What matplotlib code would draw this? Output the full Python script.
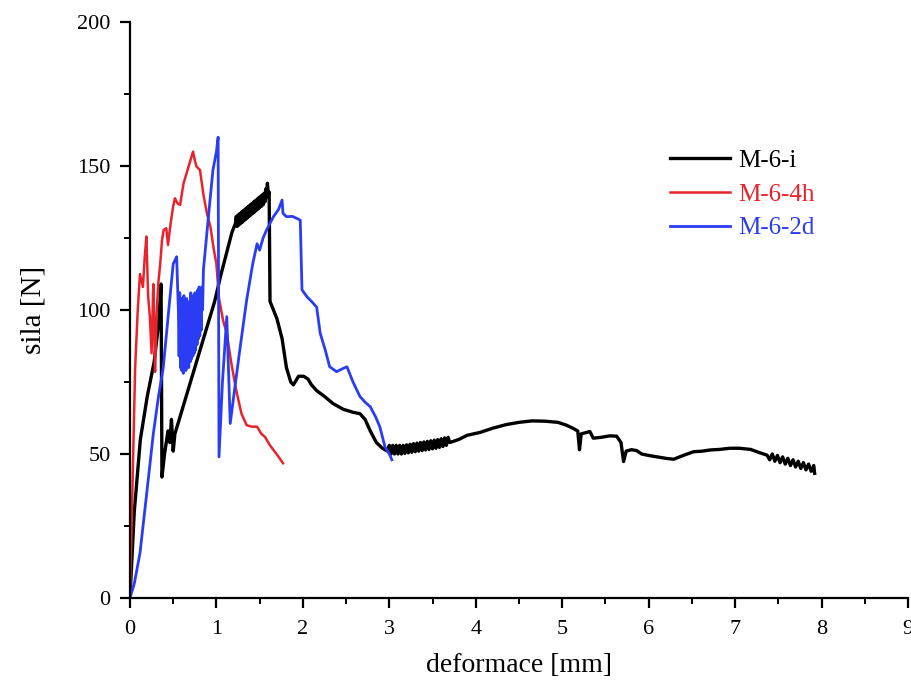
import matplotlib
matplotlib.use("Agg")
import matplotlib.pyplot as plt
from matplotlib.ticker import MultipleLocator

plt.rcParams['font.family'] = ['Liberation Serif', 'DejaVu Serif']

# M-6-i
x_i = [0, 0.05, 0.12, 0.2, 0.28, 0.33, 0.36, 0.37, 0.40, 0.44, 0.46, 0.48, 0.50, 0.52,
       0.55, 0.65, 0.75, 0.85, 0.98, 1.05, 1.12, 1.18, 1.22,
       1.23, 1.24, 1.25, 1.26, 1.27, 1.28, 1.29, 1.30, 1.31, 1.32, 1.33, 1.34, 1.35,
       1.36, 1.37, 1.38, 1.39, 1.40, 1.41, 1.42, 1.43, 1.44, 1.45, 1.46, 1.47, 1.48,
       1.49, 1.50, 1.51, 1.52, 1.53, 1.54, 1.55, 1.56, 1.57, 1.58, 1.59, 1.60, 1.61,
       1.62, 1.66, 1.70, 1.76, 1.81, 1.86,
       1.89, 1.95, 2.01, 2.06, 2.10, 2.16, 2.25, 2.35, 2.47, 2.58, 2.66, 2.72, 2.78,
       2.85, 2.92, 2.98,
       3.00, 3.02, 3.04, 3.06, 3.08, 3.10, 3.12, 3.14, 3.16, 3.18, 3.20, 3.22, 3.24,
       3.26, 3.28, 3.30, 3.32, 3.34, 3.36, 3.38, 3.40, 3.42, 3.44, 3.46, 3.48, 3.50,
       3.52, 3.54, 3.56, 3.58, 3.60, 3.62, 3.64, 3.66, 3.68, 3.70,
       3.80, 3.90, 4.05, 4.20, 4.35, 4.50, 4.65, 4.80, 4.95,
       5.05, 5.12, 5.18, 5.20, 5.22, 5.28, 5.32, 5.36, 5.45, 5.55, 5.63, 5.68, 5.71,
       5.74, 5.80, 5.86, 5.92, 6.00, 6.10, 6.20, 6.29, 6.40, 6.52, 6.62, 6.71, 6.82,
       6.94, 7.05, 7.18, 7.28, 7.37, 7.40, 7.43, 7.46, 7.49, 7.52, 7.55, 7.58, 7.61,
       7.64, 7.67, 7.70, 7.73, 7.76, 7.79, 7.82, 7.85, 7.88, 7.91, 7.92]
y_i = [0, 30, 55, 70, 82, 95, 109, 42, 50, 58, 54, 62, 51, 57,
       60, 70, 80, 90, 103, 112, 120, 127, 130,
       132.5, 129, 133, 129.5, 133.5, 130, 134, 130.5, 134.5, 131, 135, 131.5, 135.5,
       132, 136, 132.5, 136.5, 133, 137, 133.5, 137.5, 134, 138, 134.5, 138.5, 135,
       139, 135.5, 139.5, 136, 140, 136.5, 140.5, 137.5, 142, 139, 144, 140, 141,
       103, 100, 97, 90, 80, 75,
       74, 77, 77, 76, 74, 72, 70, 67.5, 65.5, 64.5, 64, 62, 58,
       54, 52, 51,
       53, 50, 53, 50, 53, 50, 53, 50, 53, 50.2, 53.2, 50.4, 53.4,
       50.6, 53.6, 50.8, 53.8, 51, 54, 51.2, 54.2, 51.4, 54.4, 51.6, 54.6, 51.8,
       54.8, 52, 55, 52.3, 55.3, 52.6, 55.6, 53, 55.8, 54,
       55, 56.5, 57.5, 59, 60.2, 61, 61.5, 61.4, 61,
       60, 59, 58, 51.5, 57, 57.5, 57.8, 55.5, 55.8, 56.3, 56.2, 54, 47.4,
       51, 51.5, 51.2, 50, 49.5, 49, 48.5, 48.2, 49.5, 50.8, 51, 51.4, 51.6,
       52, 52, 51.6, 50.5, 49.6, 48, 50, 47.5, 49.5, 47, 49, 46.5, 48.5,
       46, 48, 45.5, 47.5, 45, 47, 44.5, 46.5, 44, 46, 43.3]

# M-6-4h
x_4h = [0, 0.03, 0.06, 0.09, 0.116, 0.15, 0.17, 0.19, 0.21, 0.23, 0.25, 0.27, 0.28,
        0.29, 0.31, 0.33, 0.35, 0.37, 0.39, 0.42, 0.44, 0.47, 0.50, 0.52, 0.55, 0.58,
        0.62, 0.66, 0.69, 0.73, 0.75, 0.77, 0.81, 0.85, 0.89, 0.93, 0.97, 1.00, 1.03,
        1.08, 1.12, 1.17, 1.23, 1.29, 1.35, 1.41, 1.47, 1.52, 1.56, 1.62, 1.66, 1.72,
        1.77]
y_4h = [0, 40, 80, 100, 112.5, 108, 118, 125.5, 105, 97.7, 85, 109, 95,
        78.5, 100, 110, 116, 124, 127.8, 128.4, 122.6, 130, 136, 138.8, 137, 136.5,
        144, 148, 151, 155, 152, 149.8, 148.6, 140, 133.6, 129, 121, 116, 104,
        96, 92, 82, 72, 64, 60, 59.5, 59.5, 57, 56, 53, 51.4, 49,
        46.8]

# M-6-2d
x_2d = [0, 0.05, 0.116, 0.2, 0.27, 0.33, 0.385, 0.46, 0.50, 0.54, 0.56,
        0.568, 0.576, 0.584, 0.592, 0.600, 0.608, 0.616, 0.624, 0.632, 0.640, 0.648,
        0.656, 0.664, 0.672, 0.680, 0.688, 0.696, 0.704, 0.712, 0.720, 0.728, 0.736,
        0.744, 0.752, 0.760, 0.768, 0.776, 0.784, 0.792, 0.800, 0.808, 0.816, 0.824,
        0.832, 0.840,
        0.85, 0.90, 0.96, 1.00, 1.02, 1.03,
        1.07, 1.12, 1.16, 1.20, 1.27, 1.35, 1.42, 1.47, 1.50, 1.54, 1.58, 1.66, 1.72,
        1.76, 1.77, 1.81, 1.88, 1.93, 1.97, 1.99, 2.05, 2.10, 2.16, 2.20, 2.26, 2.31,
        2.39, 2.45, 2.51, 2.58, 2.66, 2.72, 2.78, 2.84, 2.89, 2.95, 3.00, 3.03]
y_2d = [0, 5, 15.6, 38, 57, 70, 80, 103.5, 116, 118.5, 100,
        84, 106, 80, 104, 79, 102, 78, 105, 80, 100, 79, 104,
        81, 99, 80, 103, 82, 106, 83, 102, 84, 105, 85, 106, 86,
        104, 88, 107, 90, 108, 91, 106, 93, 108, 100,
        114, 130, 148.6, 155, 160, 49,
        75, 97.7, 60.6, 70, 86, 103.5, 116, 123, 120.8, 125, 127.8, 132.4, 135,
        138.2, 133.6, 132.4, 132.5, 131.8, 131.2, 107, 104.5, 103, 101, 92, 86, 80.3,
        78.6, 79.5, 80.3, 75, 70, 68, 66.4, 63, 59.5, 52.5, 50, 48]

labels = ['M-6-i', 'M-6-4h', 'M-6-2d']
colors = ['#000000', '#e8232b', '#2b3cf5']

fig = plt.figure(figsize=(9.12, 6.87), dpi=100)
ax = fig.add_axes([0.1425, 0.1295, 0.8531, 0.8385])

ax.plot(x_i, y_i, color=colors[0], lw=2.4, label=labels[0], solid_joinstyle='round')
ax.plot(x_4h, y_4h, color=colors[1], lw=1.8, label=labels[1], solid_joinstyle='round')
ax.plot(x_2d, y_2d, color=colors[2], lw=2.0, label=labels[2], solid_joinstyle='round')

ax.set_xlim(0, 9)
ax.set_ylim(0, 200)
ax.xaxis.set_major_locator(MultipleLocator(1))
ax.xaxis.set_minor_locator(MultipleLocator(0.5))
ax.yaxis.set_major_locator(MultipleLocator(50))
ax.yaxis.set_minor_locator(MultipleLocator(25))

for side in ('top', 'right'):
    ax.spines[side].set_visible(False)
for side in ('left', 'bottom'):
    ax.spines[side].set_linewidth(1.6)

ax.tick_params(which='major', direction='out', length=7, width=1.6, labelsize=16)
ax.tick_params(axis='x', which='major', pad=9)
ax.tick_params(axis='y', which='major', pad=7)
ax.tick_params(which='minor', direction='out', length=4, width=1.4)

ax.set_xlabel('deformace [mm]', fontsize=20, labelpad=10)
ax.set_ylabel('sila [N]', fontsize=21, labelpad=22)

leg = ax.legend(loc='upper left', bbox_to_anchor=(0.665, 0.818), frameon=False,
                fontsize=18, handlelength=2.4, handletextpad=0.35, labelspacing=0.45)
for txt, c in zip(leg.get_texts(), colors):
    txt.set_color(c)

fig.savefig('out.png', dpi=100)
